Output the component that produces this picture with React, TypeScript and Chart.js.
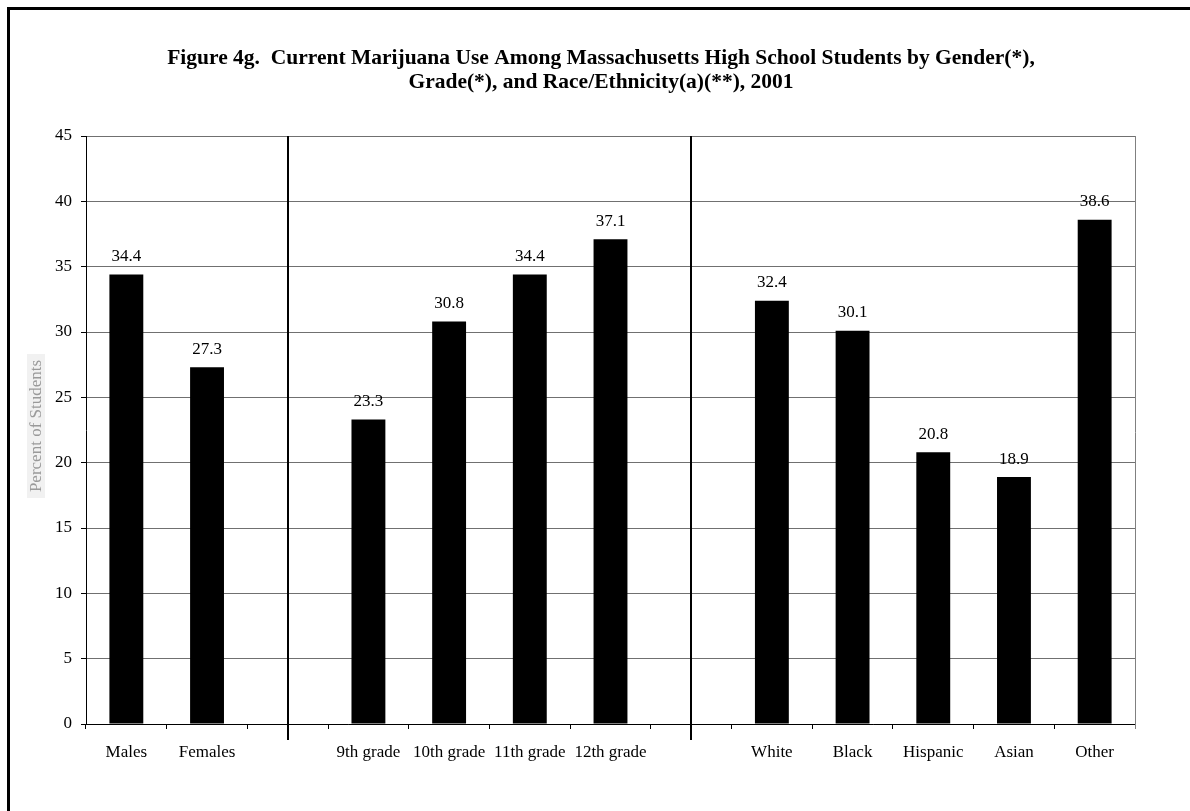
import React, { useEffect, useRef } from 'react';
import { Chart, registerables } from 'chart.js';

Chart.register(...registerables);

const TITLE_LINES = [
  'Figure 4g.  Current Marijuana Use Among Massachusetts High School Students by Gender(*),',
  'Grade(*), and Race/Ethnicity(a)(**), 2001',
];
const CATEGORIES = [
  'Males', 'Females', '',
  '9th grade', '10th grade', '11th grade', '12th grade', '',
  'White', 'Black', 'Hispanic', 'Asian', 'Other',
];
const VALUES: (number | null)[] = [
  34.4, 27.3, null,
  23.3, 30.8, 34.4, 37.1, null,
  32.4, 30.1, 20.8, 18.9, 38.6,
];
const Y_MIN = 0;
const Y_MAX = 45;
const Y_STEP = 5;
const Y_TITLE = 'Percent of Students';

const FONT = "'Liberation Serif', 'Times New Roman', serif";

const decorPlugin = {
  id: 'decor',
  beforeDraw(chart: any) {
    const ctx = chart.ctx;
    ctx.save();
    ctx.fillStyle = '#ffffff';
    ctx.fillRect(0, 0, chart.width, chart.height);
    ctx.restore();
  },
  afterDatasetsDraw(chart: any) {
    const ctx = chart.ctx;
    const meta = chart.getDatasetMeta(0);
    ctx.save();
    ctx.fillStyle = '#000';
    ctx.font = `17px ${FONT}`;
    ctx.textAlign = 'center';
    ctx.textBaseline = 'middle';
    meta.data.forEach((bar: any, i: number) => {
      const v = VALUES[i];
      if (v == null) return;
      ctx.fillText(v.toFixed(1), bar.x, bar.y - 18);
    });
    ctx.restore();
  },
  afterDraw(chart: any) {
    const ctx = chart.ctx;
    const area = chart.chartArea;
    const xs = chart.scales.x;
    ctx.save();
    // right border of plot
    ctx.strokeStyle = '#808080';
    ctx.lineWidth = 1;
    ctx.beginPath();
    ctx.moveTo(Math.round(area.right) + 0.5, area.top);
    ctx.lineTo(Math.round(area.right) + 0.5, area.bottom + 5);
    ctx.stroke();
    // group separators
    ctx.strokeStyle = '#000';
    ctx.lineWidth = 2;
    CATEGORIES.forEach((c, i) => {
      if (c !== '') return;
      const x = Math.round(xs.getPixelForValue(i));
      ctx.beginPath();
      ctx.moveTo(x, area.top);
      ctx.lineTo(x, area.bottom + 16);
      ctx.stroke();
    });
    // title
    ctx.fillStyle = '#000';
    ctx.font = `bold 21.5px ${FONT}`;
    ctx.textAlign = 'center';
    ctx.textBaseline = 'alphabetic';
    ctx.fillText(TITLE_LINES[0], 601, 64);
    ctx.fillText(TITLE_LINES[1], 601, 88);
    // y title
    ctx.save();
    ctx.translate(37, (area.top + area.bottom) / 2 - 4);
    ctx.rotate(-Math.PI / 2);
    ctx.fillStyle = '#f1f1f1';
    ctx.fillRect(-72, -10, 144, 18);
    ctx.fillStyle = '#9a9a9a';
    ctx.font = `17px ${FONT}`;
    ctx.textAlign = 'center';
    ctx.textBaseline = 'middle';
    ctx.fillText(Y_TITLE, 0, 0);
    ctx.restore();
    // outer frame
    ctx.fillStyle = '#000';
    ctx.fillRect(7, 7, chart.width - 7, 3);
    ctx.fillRect(7, 7, 3, chart.height - 7);
    ctx.restore();
  },
};

export default function App() {
  const ref = useRef<HTMLCanvasElement | null>(null);
  useEffect(() => {
    if (!ref.current) return;
    const chart = new Chart(ref.current, {
      type: 'bar',
      data: {
        labels: CATEGORIES,
        datasets: [
          {
            data: VALUES as any,
            backgroundColor: '#000',
            borderWidth: 0,
            barPercentage: 0.42,
            categoryPercentage: 1,
          },
        ],
      },
      options: {
        animation: false,
        responsive: false,
        devicePixelRatio: 1,
        layout: { padding: { left: 0, top: 136, right: 55, bottom: 27 } },
        plugins: {
          legend: { display: false },
          title: { display: false },
          tooltip: { enabled: false },
        },
        font: { family: FONT },
        scales: {
          x: {
            offset: true,
            grid: {
              offset: true,
              drawOnChartArea: false,
              drawTicks: true,
              tickLength: 5,
              tickColor: '#000',
            },
            border: { color: '#000', width: 1 },
            ticks: {
              color: '#000',
              font: { size: 17, family: FONT },
              padding: 13,
              maxRotation: 0,
              autoSkip: false,
            },
            afterFit: (s: any) => {
              s.height = 60;
            },
          },
          y: {
            min: Y_MIN,
            max: Y_MAX,
            ticks: {
              stepSize: Y_STEP,
              color: '#000',
              font: { size: 17, family: FONT },
              padding: 9,
            },
            grid: { color: '#707070', tickColor: '#000', tickLength: 5 },
            border: { color: '#000', width: 1 },
            afterFit: (s: any) => {
              s.width = 86;
            },
          },
        },
      } as any,
      plugins: [decorPlugin],
    });
    return () => chart.destroy();
  }, []);
  return (
    <div style={{ position: 'absolute', left: 0, top: 0, width: 1190, height: 811, background: '#fff' }}>
      <canvas ref={ref} width={1190} height={811} style={{ display: 'block', width: 1190, height: 811 }} />
    </div>
  );
}
